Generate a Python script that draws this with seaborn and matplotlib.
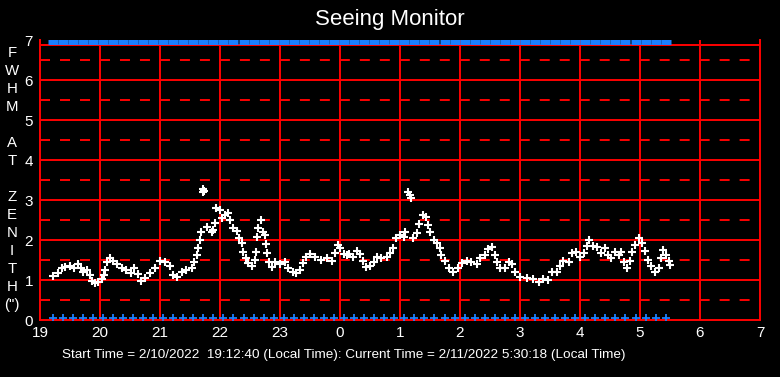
import matplotlib
matplotlib.use("Agg")
import matplotlib.pyplot as plt
import pandas as pd
import seaborn as sns

# seeing samples: local hour (24+ = after midnight) and FWHM at zenith (arcsec)
hours = [
    19.22, 19.30, 19.36, 19.42, 19.50, 19.56, 19.64, 19.69, 19.72, 19.78,
    19.83, 19.86, 19.92, 19.97, 20.03, 20.06, 20.08, 20.11, 20.17, 20.22,
    20.28, 20.36, 20.44, 20.52, 20.57, 20.63, 20.69, 20.75, 20.83, 20.92,
    21.00, 21.08, 21.17, 21.22, 21.28, 21.36, 21.44, 21.53, 21.57, 21.61,
    21.64, 21.66, 21.68, 21.71, 21.72, 21.73, 21.78, 21.86, 21.89, 21.92,
    21.94, 22.00, 22.04, 22.08, 22.14, 22.17, 22.22, 22.28, 22.31, 22.36,
    22.39, 22.43, 22.47, 22.53, 22.58, 22.60, 22.62, 22.64, 22.68, 22.72,
    22.75, 22.77, 22.78, 22.81, 22.86, 22.92, 23.00, 23.08, 23.14, 23.22,
    23.27, 23.33, 23.39, 23.44, 23.50, 23.58, 23.69, 23.78, 23.86, 23.92,
    23.96, 24.00, 24.06, 24.11, 24.15, 24.22, 24.28, 24.33, 24.39, 24.44,
    24.50, 24.56, 24.61, 24.69, 24.78, 24.83, 24.89, 24.94, 25.00, 25.06,
    25.08, 25.14, 25.16, 25.18, 25.22, 25.28, 25.32, 25.39, 25.44, 25.47,
    25.50, 25.56, 25.61, 25.67, 25.69, 25.75, 25.81, 25.89, 25.97, 26.03,
    26.11, 26.19, 26.28, 26.33, 26.42, 26.47, 26.53, 26.58, 26.62, 26.67,
    26.75, 26.81, 26.86, 26.92, 27.00, 27.11, 27.22, 27.31, 27.39, 27.47,
    27.53, 27.61, 27.67, 27.72, 27.81, 27.86, 27.94, 28.00, 28.06, 28.11,
    28.15, 28.22, 28.28, 28.35, 28.42, 28.47, 28.52, 28.58, 28.65, 28.68,
    28.74, 28.78, 28.83, 28.87, 28.92, 28.98, 29.04, 29.08, 29.13, 29.18,
    29.25, 29.32, 29.35, 29.39, 29.44, 29.48, 29.50,
]
fwhm = [
    1.10, 1.17, 1.29, 1.33, 1.36, 1.29, 1.39, 1.29, 1.19, 1.25,
    1.13, 0.98, 0.92, 0.96, 1.03, 1.13, 1.25, 1.44, 1.56, 1.48,
    1.39, 1.31, 1.25, 1.17, 1.29, 1.14, 0.98, 1.04, 1.17, 1.29,
    1.48, 1.44, 1.36, 1.13, 1.08, 1.19, 1.25, 1.29, 1.44, 1.63,
    1.81, 2.00, 2.19, 3.20, 3.28, 3.22, 2.33, 2.19, 2.25, 2.42,
    2.79, 2.75, 2.54, 2.62, 2.67, 2.50, 2.29, 2.23, 2.06, 1.92,
    1.71, 1.54, 1.42, 1.36, 1.50, 1.69, 2.08, 2.29, 2.50, 2.19,
    2.13, 1.89, 1.67, 1.44, 1.33, 1.44, 1.39, 1.44, 1.29, 1.19,
    1.17, 1.25, 1.42, 1.58, 1.64, 1.58, 1.50, 1.56, 1.48, 1.67,
    1.88, 1.79, 1.64, 1.63, 1.65, 1.58, 1.73, 1.64, 1.48, 1.33,
    1.36, 1.46, 1.58, 1.56, 1.58, 1.67, 1.79, 2.04, 2.13, 2.08,
    2.21, 3.21, 3.13, 3.06, 2.04, 2.17, 2.39, 2.63, 2.58, 2.38,
    2.21, 2.00, 1.92, 1.79, 1.63, 1.48, 1.31, 1.21, 1.29, 1.42,
    1.48, 1.44, 1.39, 1.56, 1.63, 1.78, 1.83, 1.63, 1.44, 1.29,
    1.29, 1.44, 1.39, 1.19, 1.08, 1.06, 1.03, 0.94, 1.03, 1.00,
    1.19, 1.21, 1.36, 1.48, 1.44, 1.67, 1.71, 1.58, 1.67, 1.86,
    2.00, 1.86, 1.83, 1.67, 1.81, 1.63, 1.54, 1.69, 1.63, 1.69,
    1.46, 1.29, 1.48, 1.71, 1.88, 2.04, 1.92, 1.73, 1.50, 1.36,
    1.21, 1.29, 1.54, 1.75, 1.63, 1.48, 1.38,
]

# status marks, minutes after 19:00
status_minutes = [
    13, 23, 33, 43, 53, 63, 73, 83, 93, 103, 113, 123, 133, 143, 153, 163,
    173, 183, 193, 204, 214, 224, 234, 244, 254, 264, 274, 284, 294, 304,
    314, 324, 334, 344, 354, 364, 374, 384, 394, 405, 415, 425, 435, 445,
    455, 465, 475, 485, 495, 505, 515, 525, 535, 545, 555, 565, 575, 585,
    596, 606, 616, 626,
]
status_low = 0.06
status_high = 6.95

tick_hours = list(range(19, 32))
tick_labels = ["19", "20", "21", "22", "23", "0", "1", "2", "3", "4", "5", "6", "7"]
y_ticks = [0, 1, 2, 3, 4, 5, 6, 7]
solid_levels = [1, 2, 3, 4, 5, 6]
dashed_levels = [0.5, 1.5, 2.5, 3.5, 4.5, 5.5, 6.5]
frame_top = 6.875

red = "#ff0000"
blue = "#1a80ff"

sns.set_theme(style="white", rc={
    "figure.facecolor": "black",
    "axes.facecolor": "black",
    "savefig.facecolor": "black",
})
plt.rcParams["font.family"] = ["Liberation Sans", "DejaVu Sans"]

fig = plt.figure(figsize=(7.8, 3.77), dpi=100)
ax = fig.add_axes([40 / 780, 57 / 377, 720 / 780, 280 / 377])

seeing = pd.DataFrame({"hour": hours, "fwhm": fwhm})
status = pd.DataFrame({"hour": [19 + m / 60 for m in status_minutes]})
status["low"] = status_low
status["high"] = status_high

# grid
lw = 1.4
for h in tick_hours[1:-1]:
    ax.axvline(h, color=red, lw=lw, zorder=1)
for y in solid_levels:
    ax.axhline(y, color=red, lw=lw, zorder=1)
for y in dashed_levels:
    ax.axhline(y, color=red, lw=lw, ls=(0, (5.14, 5.14)), zorder=1)
ax.axhline(frame_top, color=red, lw=lw, zorder=1)

sns.scatterplot(data=seeing, x="hour", y="fwhm", marker="+", color="white",
                s=40, linewidth=1.5, ax=ax, zorder=3)
sns.scatterplot(data=status, x="hour", y="low", marker="+", color=blue,
                s=32, linewidth=1.3, ax=ax, zorder=3)
sns.scatterplot(data=status, x="hour", y="high", marker="_", color=blue,
                s=44, linewidth=3.6, ax=ax, zorder=3, clip_on=False)

ax.set_xlim(19, 31)
ax.set_ylim(0, 7)
ax.set_xticks(tick_hours, tick_labels)
ax.set_yticks(y_ticks)
ax.tick_params(length=0, labelcolor="white", labelsize=11)
ax.tick_params(axis="x", pad=4)
ax.tick_params(axis="y", pad=5)
ax.set_xlabel("")
ax.set_ylabel("")
for side in ["left", "right", "bottom"]:
    ax.spines[side].set_color(red)
    ax.spines[side].set_linewidth(lw)
ax.spines["top"].set_visible(False)

fig.text(0.5, 1 - 20 / 377, "Seeing Monitor", ha="center", va="center",
         color="white", fontsize=16)
fig.text(12 / 780, 1 - 179 / 377, "F\nW\nH\nM\n\nA\nT\n\nZ\nE\nN\nI\nT\nH\n(\")",
         ha="center", va="center", color="white", fontsize=10.8, linespacing=1.36)
fig.text(62 / 780, 1 - 355 / 377,
         "Start Time = 2/10/2022  19:12:40 (Local Time): Current Time = 2/11/2022 5:30:18 (Local Time)",
         ha="left", va="center", color="white", fontsize=9.7)

fig.savefig("out.png", dpi=100)
